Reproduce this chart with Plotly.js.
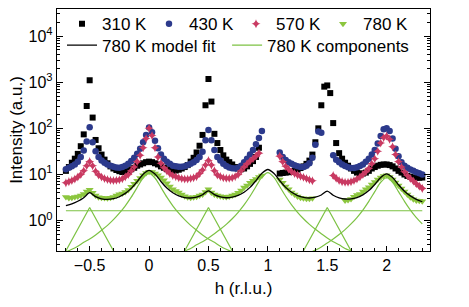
<!DOCTYPE html>
<html>
<head>
<meta charset="utf-8">
<script src="https://cdn.plot.ly/plotly-3.0.1.min.js"></script>
<style>html,body{margin:0;padding:0;background:#fff;}#chart{width:469px;height:307px;}</style>
</head>
<body>
<div id="chart"></div>
<script>
// scattering positions h (r.l.u.)
const h = [
 -0.7,-0.675,-0.65,-0.625,-0.6,-0.575,-0.55,-0.525,-0.5,-0.475,
 -0.45,-0.425,-0.4,-0.375,-0.35,-0.325,-0.3,-0.275,-0.25,-0.225,
 -0.2,-0.175,-0.15,-0.125,-0.1,-0.075,-0.05,-0.025,0,0.025,
 0.05,0.075,0.1,0.125,0.15,0.175,0.2,0.225,0.25,0.275,
 0.3,0.325,0.35,0.375,0.4,0.425,0.45,0.475,0.5,0.525,
 0.55,0.575,0.6,0.625,0.65,0.675,0.7,0.725,0.75,0.775,
 0.8,0.825,0.85,0.875,0.9,0.925,0.95,0.975,1.0,1.025,
 1.05,1.075,1.1,1.125,1.15,1.175,1.2,1.225,1.25,1.275,
 1.3,1.325,1.35,1.375,1.4,1.425,1.45,1.475,1.5,1.525,
 1.55,1.575,1.6,1.625,1.65,1.675,1.7,1.725,1.75,1.775,
 1.8,1.825,1.85,1.875,1.9,1.925,1.95,1.975,2.0,2.025,
 2.05,2.075,2.1,2.125,2.15,2.175,2.2,2.225,2.25,2.275,
 2.3
];
const i310 = [
 12,14.5,18,22,28,41,74,305,1100,171,
 56,37,27,21,17.5,15,13.5,12.5,11.8,11.3,
 11.5,12,13,14,15.5,16.5,17.5,18.5,19,18.5,
 17.5,16.5,15,14,13,12.5,12.2,12.2,12.7,13.5,
 14.5,16,19,23,30,42,72,316,1170,380,
 76,48,34,26,21,18.5,16.5,14.5,13.5,13,
 13.5,15,17,19.5,24,38,null,null,null,null,
 null,null,10.5,10.8,11,11.2,11.5,12,12.8,13.8,
 15,17,20,27,50,100,316,800,850,580,
 130,48,29,22,18,15.5,13.5,12,11,10.5,
 10.5,11,12,13.5,14.5,15.5,16.2,16.5,16.5,16,
 15,13.5,12,11,10,9.3,8.9,8.6,8.5,8.5,
 8.6
];
const i430 = [
 13,14,15,16.5,19,24,33,52,105,50,
 32,24,20,18,16.5,15.5,14.8,14.2,14,14.5,
 15.5,17,19.5,23,28,36,50,72,104,82,
 54,37,27,22,19,17,15.5,15,14.7,14.7,
 15,16,17,18.5,20.5,24,31,55,92,55,
 34,24,20,17,15.2,14.2,13.7,13.5,14,15.5,
 18.5,22,27,34,45,62,88,null,null,null,
 null,null,30,24,20.5,18.5,17,15.8,15,14.5,
 14.5,15.5,17.5,23,44,85,80,null,null,null,
 26,21,18.5,16.5,15.2,14.3,13.9,13.9,14.3,15.3,
 16.5,19,22,27,34,47,68,95,100,88,
 60,36,25,18.5,15.5,14,12.8,12,11.2,10.6,
 10
];
const i570 = [
 6.6,7,7.4,8,8.8,10,12,15.5,19,15.5,
 11.8,9.8,8.8,8.2,7.8,7.5,7.4,7.5,7.7,8.1,
 8.9,10,12,14.5,19,26,38,60,100,70,
 38,24,17.5,14,12,10.5,9.5,9,8.5,8.2,
 8,8,8.2,8.5,9,10.5,12.5,16,20,16,
 12,9.8,9,8.5,8.3,8.3,8.5,9,10,12,
 14.5,17,19.5,22,25,29,null,null,null,null,
 null,null,25,19,15,13,11.5,10.5,9.8,9.2,
 8.7,8.2,7.7,7.3,null,null,null,null,null,null,
 9.5,8.3,7.4,7,6.8,6.8,7,7.4,8,8.8,
 10,11.5,13.5,17,22,32,48,63,68,58,
 40,27,19,14.5,11.5,9.5,8.2,7.2,6.3,5.6,
 5
];
const i780 = [
 3.25,3.1,3.15,3.25,3.35,3.5,3.8,4.3,4.7,4.0,
 3.5,3.2,3.15,3.1,3.05,3.15,3.25,3.5,3.75,3.9,
 4.2,4.6,5.4,6.3,7.3,8.4,9.6,10.8,11.5,11.3,
 10.5,9.6,8.6,7.5,6.5,5.5,4.8,4.4,4.1,3.7,
 3.4,3.2,3.15,3.2,3.3,3.5,3.7,4.2,4.8,4.1,
 3.7,3.5,3.4,3.3,3.25,3.35,3.5,3.7,4.0,4.5,
 5.2,5.8,6.6,7.3,8.0,8.8,9.5,null,null,null,
 null,null,7.8,6.6,5.5,4.8,4.1,3.7,3.35,3.15,
 3.05,3.0,3.0,3.05,null,null,null,null,null,null,
 null,null,null,null,2.75,2.8,2.95,3.3,3.6,3.8,
 4.3,4.8,5.3,6.1,6.9,7.8,8.6,9.3,9.6,8.8,
 7.8,6.7,5.8,5.0,4.3,3.7,3.2,2.9,2.75,2.7,
 2.65
];

// 780 K model fit
const hFit = [
 -0.7,-0.65,-0.6,-0.55,-0.5,-0.45,-0.4,-0.35,-0.3,-0.25,
 -0.2,-0.15,-0.1,-0.05,0,0.05,0.1,0.15,0.2,0.25,
 0.3,0.35,0.4,0.45,0.5,0.55,0.6,0.65,0.7,0.75,
 0.8,0.85,0.9,0.95,1.0,1.05,1.1,1.15,1.2,1.25,
 1.3,1.35,1.4,1.45,1.5,1.55,1.6,1.65,1.7,1.75,
 1.8,1.85,1.9,1.95,2.0,2.05,2.1,2.15,2.2,2.25,
 2.3
];
const iFit = [
 2.12,2.31,2.63,3.15,4.03,3.31,2.98,2.88,2.99,3.30,
 3.90,5.00,7.01,10.16,12.29,10.20,7.07,5.09,4.01,3.44,
 3.16,3.10,3.24,3.64,4.43,3.66,3.26,3.14,3.22,3.52,
 4.13,5.27,7.37,10.65,12.84,10.64,7.36,5.26,4.12,3.50,
 3.19,3.10,3.22,3.60,4.37,3.56,3.13,2.95,2.97,3.16,
 3.61,4.48,6.08,8.60,10.28,8.57,6.00,4.36,3.44,2.90,
 2.57
];

// 780 K components
const hBg = [-0.7, 2.3];
const iBg = [1.64, 1.64];
const hB0 = [-0.7,-0.65,-0.6,-0.55,-0.5,-0.45,-0.4,-0.35,-0.3,-0.25,-0.2,-0.15,-0.1,-0.05,0,
             0.05,0.1,0.15,0.2,0.25,0.3,0.35,0.4,0.45,0.5,0.55,0.6,0.65,0.7,0.75,0.8];
const iB0 = [0.21,0.24,0.28,0.34,0.40,0.49,0.62,0.79,1.05,1.45,2.1,3.23,5.25,8.4,10.6,
             8.4,5.25,3.23,2.1,1.45,1.05,0.79,0.62,0.49,0.40,0.34,0.28,0.24,0.21,0.18,0.16];
const hB1 = [0.2,0.25,0.3,0.35,0.4,0.45,0.5,0.55,0.6,0.65,0.7,0.75,0.8,0.85,0.9,0.95,1.0,
             1.05,1.1,1.15,1.2,1.25,1.3,1.35,1.4,1.45,1.5,1.55,1.6,1.65,1.7,1.75,1.8];
const iB1 = [0.17,0.19,0.22,0.25,0.30,0.35,0.42,0.52,0.65,0.83,1.1,1.52,2.2,3.38,5.5,8.8,11,
             8.8,5.5,3.38,2.2,1.52,1.1,0.83,0.65,0.52,0.42,0.35,0.30,0.25,0.22,0.19,0.17];
const hB2 = [1.2,1.25,1.3,1.35,1.4,1.45,1.5,1.55,1.6,1.65,1.7,1.75,1.8,1.85,1.9,1.95,2.0,
             2.05,2.1,2.15,2.2,2.25,2.3];
const iB2 = [0.13,0.15,0.17,0.20,0.23,0.27,0.33,0.40,0.50,0.64,0.85,1.17,1.7,2.62,4.25,6.8,8.5,
             6.8,4.25,2.62,1.7,1.17,0.85];
const hNa = [-0.75,-0.5,-0.25];
const hNb = [0.25,0.5,0.75];
const hNc = [1.25,1.5,1.75];
const iN  = [0.13,1.93,0.13];

const yTickVals = [1,10,100,1000,10000];
const yTickText = ['10<sup>0</sup>','10<sup>1</sup>','10<sup>2</sup>','10<sup>3</sup>','10<sup>4</sup>'];
const yMinorVals = [0.3,0.4,0.5,0.6,0.7,0.8,0.9,2,3,4,5,6,7,8,9,20,30,40,50,60,70,80,90,
  200,300,400,500,600,700,800,900,2000,3000,4000,5000,6000,7000,8000,9000,20000,30000];

const green = '#7cc243';
const compLine = {color:green, width:1.2};
const traces = [
  {x:h, y:i310, type:'scatter', mode:'markers', name:'310 K', legend:'legend',
   marker:{symbol:'square', size:6, color:'#000000'}},
  {x:h, y:i430, type:'scatter', mode:'markers', name:'430 K', legend:'legend',
   marker:{symbol:'circle', size:6.5, color:'#2c3a8c'}},
  {x:h, y:i570, type:'scatter', mode:'markers', name:'570 K', legend:'legend',
   marker:{symbol:'star-diamond', size:6.5, color:'#c93a62'}},
  {x:h, y:i780, type:'scatter', mode:'markers', name:'780 K', legend:'legend',
   marker:{symbol:'triangle-down', size:7, color:'#8cc63f'}},
  {x:hFit, y:iFit, type:'scatter', mode:'lines', name:'780 K model fit', legend:'legend2',
   line:{color:'#000000', width:1.3, shape:'spline', smoothing:0.8}},
  {x:hB0, y:iB0, type:'scatter', mode:'lines', name:'780 K components', legend:'legend3',
   legendgroup:'comp', line:{color:green, width:1.2, shape:'spline', smoothing:0.8}},
  {x:hB1, y:iB1, type:'scatter', mode:'lines', name:'780 K components', legend:'legend3',
   legendgroup:'comp', showlegend:false, line:{color:green, width:1.2, shape:'spline', smoothing:0.8}},
  {x:hB2, y:iB2, type:'scatter', mode:'lines', name:'780 K components', legend:'legend3',
   legendgroup:'comp', showlegend:false, line:{color:green, width:1.2, shape:'spline', smoothing:0.8}},
  {x:hBg, y:iBg, type:'scatter', mode:'lines', name:'780 K components', legend:'legend3',
   legendgroup:'comp', showlegend:false, line:compLine},
  {x:hNa, y:iN, type:'scatter', mode:'lines', name:'780 K components', legend:'legend3',
   legendgroup:'comp', showlegend:false, line:compLine},
  {x:hNb, y:iN, type:'scatter', mode:'lines', name:'780 K components', legend:'legend3',
   legendgroup:'comp', showlegend:false, line:compLine},
  {x:hNc, y:iN, type:'scatter', mode:'lines', name:'780 K components', legend:'legend3',
   legendgroup:'comp', showlegend:false, line:compLine}
];

const legendBase = {
  orientation:'h', xref:'paper', yref:'paper', xanchor:'left', yanchor:'middle',
  itemwidth:30, bgcolor:'rgba(0,0,0,0)', borderwidth:0, font:{size:17}
};

const layout = {
  width:469, height:307,
  margin:{l:57, r:39, t:6, b:56},
  paper_bgcolor:'#ffffff', plot_bgcolor:'#ffffff',
  font:{family:'Liberation Sans, Arial, sans-serif', size:16, color:'#000000'},
  showlegend:true,
  xaxis:{
    range:[-0.775, 2.365], tick0:0, dtick:0.5,
    ticks:'inside', ticklen:5, tickwidth:1, tickcolor:'#000',
    showline:true, linecolor:'#000', linewidth:1.2, mirror:true,
    showgrid:false, zeroline:false, automargin:false,
    tickfont:{size:16},
    minor:{tick0:0, dtick:0.1, ticks:'inside', ticklen:3, tickwidth:1, tickcolor:'#000', showgrid:false},
    title:{text:'h (r.l.u.)', font:{size:17}, standoff:8}
  },
  yaxis:{
    type:'log', range:[-0.657, 4.585],
    tickmode:'array', tickvals:yTickVals, ticktext:yTickText,
    ticks:'inside', ticklen:6, tickwidth:1, tickcolor:'#000',
    showline:true, linecolor:'#000', linewidth:1.2, mirror:'allticks',
    showgrid:false, zeroline:false, automargin:false,
    tickfont:{size:16},
    minor:{tickmode:'array', tickvals:yMinorVals, ticks:'inside', ticklen:3, tickwidth:1, tickcolor:'#000', showgrid:false},
    title:{text:'Intensity (a.u.)', font:{size:17}, standoff:1}
  },
  legend:Object.assign({}, legendBase, {x:0.0134, y:0.937, entrywidth:42, entrywidthmode:'pixels'}),
  legend2:Object.assign({}, legendBase, {x:0.0134, y:0.849}),
  legend3:Object.assign({}, legendBase, {x:0.456, y:0.849})
};

Plotly.newPlot('chart', traces, layout, {staticPlot:true, displayModeBar:false});
</script>
</body>
</html>
